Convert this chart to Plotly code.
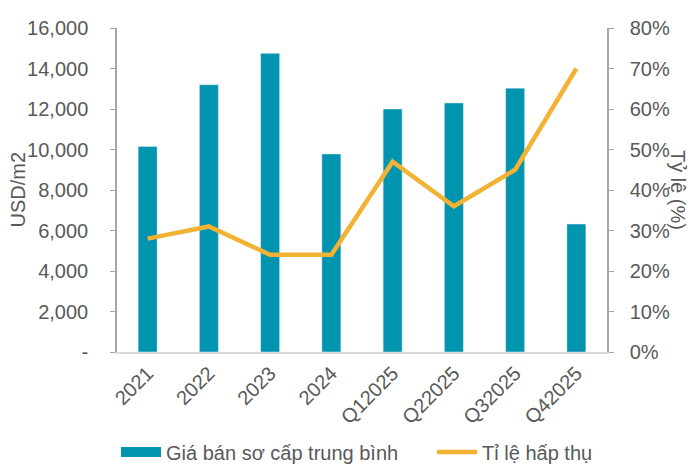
import plotly.graph_objects as go

categories = ["2021", "2022", "2023", "2024", "Q12025", "Q22025", "Q32025", "Q42025"]
price_usd_m2 = [10150, 13200, 14750, 9780, 12000, 12300, 13030, 6320]
absorption_pct = [28, 31, 24, 24, 47, 36, 45, 70]

left_ticks = [0, 2000, 4000, 6000, 8000, 10000, 12000, 14000, 16000]
left_ticktext = ["-", "2,000", "4,000", "6,000", "8,000", "10,000", "12,000", "14,000", "16,000"]
right_ticks = [0, 10, 20, 30, 40, 50, 60, 70, 80]
right_ticktext = [f"{v}%" for v in right_ticks]

TEAL = "#0094AE"
GOLD = "#F2B233"
TXT = "#595959"
FONT = "Liberation Sans, Arial, sans-serif"
FS = 20

fig = go.Figure()
fig.add_trace(go.Bar(x=categories, y=price_usd_m2, marker_color=TEAL,
                     name="Giá bán sơ cấp trung bình", showlegend=False))
# legend stand-in for the bar series (wide rectangle like the original)
fig.add_trace(go.Scatter(x=[None], y=[None], mode="lines",
                         line=dict(color=TEAL, width=10),
                         name="Giá bán sơ cấp trung bình", legend="legend"))
fig.add_trace(go.Scatter(x=categories, y=absorption_pct, mode="lines",
                         line=dict(color=GOLD, width=4.5),
                         name="Tỉ lệ hấp thụ", yaxis="y2", legend="legend2"))

leg_common = dict(orientation="h", xanchor="left", y=-0.309, yanchor="middle",
                  itemwidth=40, font=dict(size=FS, color=TXT), bgcolor="rgba(0,0,0,0)")

fig.update_layout(
    width=689, height=467,
    margin=dict(l=109, r=90, t=20, b=123, autoexpand=False),
    plot_bgcolor="white", paper_bgcolor="white",
    font=dict(family=FONT, size=FS, color=TXT),
    bargap=0.69,
    xaxis=dict(type="category", tickangle=-45, showline=True, linecolor="#D9D9D9",
               linewidth=1.5, ticks="", showgrid=False, automargin=False,
               tickfont=dict(size=FS, color=TXT)),
    yaxis=dict(range=[0, 16000], tickvals=left_ticks, ticktext=left_ticktext,
               showline=True, linecolor="#A6A6A6", linewidth=1.5, ticks="outside",
               ticklen=5, tickcolor="#A6A6A6", showgrid=False, zeroline=False,
               automargin=False, ticklabelstandoff=18, tickfont=dict(size=FS, color=TXT)),
    yaxis2=dict(range=[0, 80], overlaying="y", side="right", tickvals=right_ticks,
                ticktext=right_ticktext, showline=True, linecolor="#A6A6A6", linewidth=1.5,
                ticks="outside", ticklen=5, tickcolor="#A6A6A6", showgrid=False,
                zeroline=False, automargin=False, ticklabelstandoff=12,
                tickfont=dict(size=FS, color=TXT)),
    legend=dict(x=-0.002, **leg_common),
    legend2=dict(x=0.643, **leg_common),
    annotations=[
        dict(text="USD/m2", textangle=-90, xref="paper", yref="paper",
             x=-0.203, y=0.5, xanchor="center", yanchor="middle", showarrow=False,
             font=dict(size=FS, color=TXT)),
        dict(text="Tỷ lệ (%)", textangle=90, xref="paper", yref="paper",
             x=1.145, y=0.5, xanchor="center", yanchor="middle", showarrow=False,
             font=dict(size=FS, color=TXT)),
    ],
)

fig.write_html("out.html")
